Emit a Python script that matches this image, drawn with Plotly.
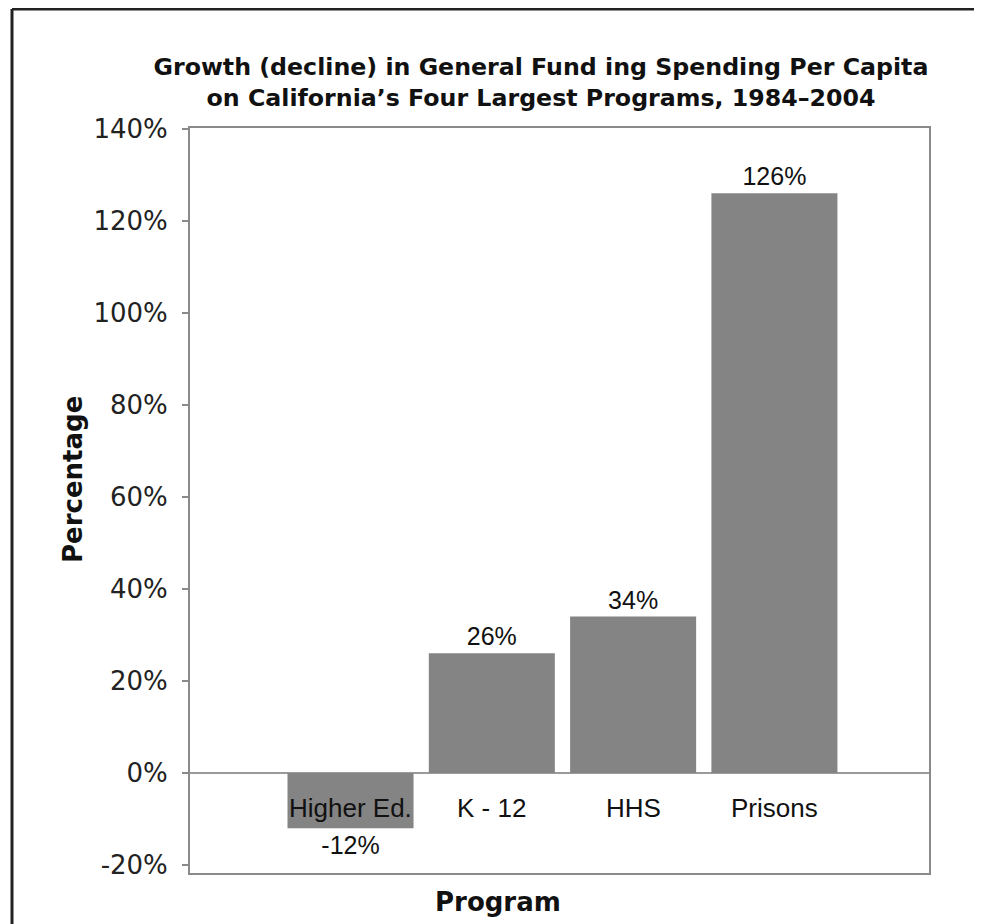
import plotly.graph_objects as go

programs = ["Higher Ed.", "K - 12", "HHS", "Prisons"]
growth = [-12, 26, 34, 126]
bar_labels = ["-12%", "26%", "34%", "126%"]
y_tick_vals = [-20, 0, 20, 40, 60, 80, 100, 120, 140]
y_tick_text = ["-20%", "0%", "20%", "40%", "60%", "80%", "100%", "120%", "140%"]

title_text = ("Growth (decline) in General Fund ing Spending Per Capita<br>"
              "on California\u2019s Four Largest Programs, 1984\u20132004")

W, H = 982, 924
OFF = 8  # page body margin
# target plot area in screen pixels: x 190..929, y 128..873
L, T = 190 - OFF, 128 - OFF
R, B = W - (929 - OFF), H - (873 - OFF)
pw = W - L - R
ph = H - T - B


def px(x):
    return (x - OFF - L) / pw


def py(y):
    return (H - B - (y - OFF)) / ph


fig = go.Figure()
fig.add_trace(go.Bar(
    x=programs, y=growth,
    marker=dict(color="#848484", line=dict(width=0)),
    text=bar_labels, textposition="outside", constraintext="none",
    textfont=dict(family="Liberation Sans, Arial, sans-serif", size=25, color="#111"),
    cliponaxis=False,
    hoverinfo="skip",
))

annotations = []
for p in programs:
    annotations.append(dict(
        x=p, y=-7.6, xref="x", yref="y", text=p, showarrow=False,
        font=dict(family="Liberation Sans, Arial, sans-serif", size=26, color="#111"),
        xanchor="center", yanchor="middle"))

annotations.append(dict(
    x=px(73), y=py(480), xref="paper", yref="paper",
    text="<b>Percentage</b>", textangle=-90, showarrow=False,
    font=dict(family="DejaVu Sans, Verdana, sans-serif", size=26, color="#111"),
    xanchor="center", yanchor="middle"))
annotations.append(dict(
    x=px(498), y=py(902), xref="paper", yref="paper",
    text="<b>Program</b>", showarrow=False,
    font=dict(family="DejaVu Sans, Verdana, sans-serif", size=26, color="#111"),
    xanchor="center", yanchor="middle"))

bx = px(12)
by = py(9)
shapes = [
    dict(type="line", xref="paper", yref="paper", x0=bx, x1=px(W + 20), y0=by, y1=by,
         line=dict(color="#222", width=3)),
    dict(type="line", xref="paper", yref="paper", x0=bx, x1=bx, y0=py(H + 20), y1=by,
         line=dict(color="#222", width=3)),
]

fig.update_layout(
    width=W, height=H,
    margin=dict(l=L, r=R, t=T, b=B),
    paper_bgcolor="white", plot_bgcolor="white",
    showlegend=False,
    bargap=0.108,
    title=dict(text="<b>" + title_text + "</b>", x=(541 - OFF) / W, xanchor="center",
               y=1 - (75 - OFF) / H, yanchor="middle", yref="container", xref="container",
               font=dict(family="DejaVu Sans, Verdana, sans-serif", size=23.7, color="#111")),
    xaxis=dict(range=[-1.136, 4.094], showticklabels=False, ticks="",
               showline=True, linecolor="#8a8a8a", linewidth=2, mirror=True,
               showgrid=False, zeroline=False, fixedrange=True),
    yaxis=dict(range=[-21.74, 140.2], tickvals=y_tick_vals, ticktext=y_tick_text,
               ticks="outside", ticklen=6, tickcolor="#8a8a8a", tickwidth=1.5,
               ticklabelstandoff=9,
               tickfont=dict(family="DejaVu Sans, Verdana, sans-serif", size=26, color="#222"),
               showline=True, linecolor="#8a8a8a", linewidth=2, mirror=True,
               showgrid=False, zeroline=True, zerolinecolor="#9a9a9a", zerolinewidth=1.5,
               fixedrange=True),
    annotations=annotations,
    shapes=shapes,
)

fig.write_html("out.html")
